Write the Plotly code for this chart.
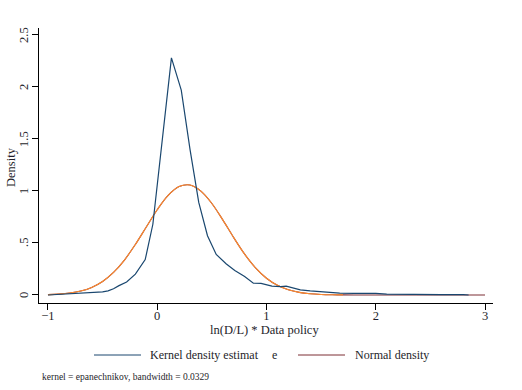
import plotly.graph_objects as go

# Kernel density estimate
kde_x = [-1.0, -0.9, -0.8, -0.7, -0.6, -0.5, -0.45, -0.4, -0.35, -0.28, -0.2, -0.11, -0.04,
         0.05, 0.13, 0.22, 0.30, 0.38, 0.46, 0.54, 0.63, 0.71, 0.80, 0.88, 0.95, 1.05, 1.13,
         1.18, 1.25, 1.31, 1.40, 1.49, 1.58, 1.67, 1.80, 1.90, 2.00, 2.10, 2.20, 2.40, 2.60,
         2.80, 2.85]
kde_y = [0.0, 0.005, 0.012, 0.018, 0.022, 0.030, 0.040, 0.060, 0.090, 0.125, 0.20, 0.34, 0.68,
         1.50, 2.28, 1.97, 1.40, 0.89, 0.57, 0.39, 0.30, 0.235, 0.177, 0.113, 0.112, 0.085, 0.080,
         0.085, 0.065, 0.050, 0.040, 0.030, 0.022, 0.017, 0.016, 0.016, 0.015, 0.008, 0.006,
         0.005, 0.004, 0.003, 0.0]

# Normal density
norm_x = [-1.0, -0.9, -0.8, -0.7, -0.6, -0.5, -0.4, -0.3, -0.2, -0.1, 0.0, 0.1, 0.2, 0.3,
          0.4, 0.5, 0.6, 0.7, 0.8, 0.9, 1.0, 1.1, 1.2, 1.3, 1.4, 1.5, 1.6, 1.7, 1.8, 1.9,
          2.0, 2.2, 2.4, 2.6, 2.8, 3.0]
norm_y = [0.0035, 0.0084, 0.0185, 0.038, 0.073, 0.130, 0.217, 0.336, 0.486, 0.654, 0.820,
          0.958, 1.043, 1.058, 0.999, 0.880, 0.722, 0.552, 0.393, 0.261, 0.161, 0.093, 0.050,
          0.025, 0.0116, 0.005, 0.002, 0.0008, 0.0003, 0.0, 0.0, 0.0, 0.0, 0.0, 0.0, 0.0]
orange_until = 28  # index where the orange part of the normal curve stops

x_ticks = [-1, 0, 1, 2, 3]
x_tick_labels = ["\u22121", "0", "1", "2", "3"]
y_ticks = [0, 0.5, 1, 1.5, 2, 2.5]
y_tick_labels = ["0", ".5", "1", "1.5", "2", "2.5"]

x_title = "ln(D/L) * Data policy"
y_title = "Density"
legend_labels = ["Kernel density estimat", "e", "Normal density"]
note = "kernel = epanechnikov, bandwidth = 0.0329"

NAVY = "#1a476f"
ORANGE = "#ff8c2e"
MAROON = "#7d2e35"
TEXT = "#1e1e2a"
FONT = "Liberation Serif"

fig = go.Figure()
fig.add_trace(go.Scatter(x=norm_x, y=norm_y, mode="lines",
                         line=dict(color=MAROON, width=1.1, shape="spline"), showlegend=False))
fig.add_trace(go.Scatter(x=norm_x[:orange_until], y=norm_y[:orange_until], mode="lines",
                         line=dict(color=ORANGE, width=1.1, shape="spline"), showlegend=False))
fig.add_trace(go.Scatter(x=kde_x, y=kde_y, mode="lines", line=dict(color=NAVY, width=1.2),
                         showlegend=False))

fig.update_layout(
    width=522, height=390,
    margin=dict(l=39, r=29, t=28, b=87),
    paper_bgcolor="white", plot_bgcolor="white",
    font=dict(family=FONT, size=12, color=TEXT),
    xaxis=dict(range=[-1.082, 3.073], tickvals=x_ticks, ticktext=x_tick_labels,
               showline=True, linecolor="black", linewidth=1, ticks="outside", ticklen=6,
               tickcolor="black", showgrid=False, zeroline=False, automargin=False,
               tickfont=dict(size=12.5), ticklabelstandoff=-5),
    yaxis=dict(range=[-0.077, 2.567], tickvals=y_ticks, showticklabels=False,
               showline=True, linecolor="black", linewidth=1, ticks="outside", ticklen=6,
               tickcolor="black", showgrid=False, zeroline=False, automargin=False),
)

def px_x(p):
    return (p - 39) / 454.0

def px_y(p):
    return (303 - p) / 275.0

shapes = [
    dict(type="line", xref="paper", yref="paper", x0=px_x(94), x1=px_x(141), y0=px_y(355), y1=px_y(355),
         line=dict(color=NAVY, width=1)),
    dict(type="line", xref="paper", yref="paper", x0=px_x(298), x1=px_x(345), y0=px_y(355), y1=px_y(355),
         line=dict(color=MAROON, width=1)),
]
fig.update_layout(shapes=shapes)

annotations = [
    dict(text=x_title, x=px_x(264), y=px_y(330), xanchor="center", yanchor="middle",
         font=dict(size=12.5)),
    dict(text=y_title, x=px_x(11), y=px_y(167), xanchor="center", yanchor="middle",
         textangle=-90, font=dict(size=12.5)),
    dict(text=legend_labels[0], x=px_x(148), y=px_y(355), xanchor="left", yanchor="middle"),
    dict(text=legend_labels[1], x=px_x(270), y=px_y(355), xanchor="left", yanchor="middle"),
    dict(text=legend_labels[2], x=px_x(353), y=px_y(355), xanchor="left", yanchor="middle"),
    dict(text=note, x=px_x(40), y=px_y(377), xanchor="left", yanchor="middle", font=dict(size=9.5)),
]
for a in annotations:
    a.update(xref="paper", yref="paper")
# rotated y tick labels, placed through the y scale
for v, lab in zip(y_ticks, y_tick_labels):
    annotations.append(dict(text=lab, x=px_x(24), y=v, xref="paper", yref="y",
                            xanchor="center", yanchor="middle", textangle=-90,
                            font=dict(size=12.5)))
for a in annotations:
    a["showarrow"] = False
    a.setdefault("font", dict(size=12))
    a["font"]["family"] = FONT
    a["font"]["color"] = TEXT
fig.update_layout(annotations=annotations)

# remove the default 8px page margin so the figure sits at the window's top-left corner
fig.write_html("out.html", config={"displayModeBar": False},
               post_script="document.body.style.margin='0';")
